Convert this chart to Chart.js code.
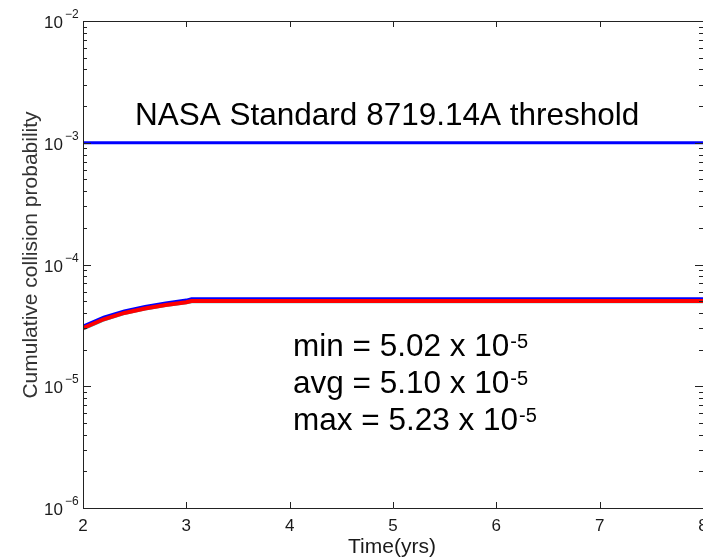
<!DOCTYPE html>
<html>
<head>
<meta charset="utf-8">
<script src="https://cdn.jsdelivr.net/npm/chart.js@4.4.1/dist/chart.umd.min.js"></script>
<style>
  html, body { margin: 0; padding: 0; background: #fff; }
  canvas { display: block; }
</style>
</head>
<body>
<canvas id="chart" width="703" height="559"></canvas>
<script>
// time axis (years) and cumulative probability samples, values in units of 1e-5
const years = [2.0, 2.2, 2.4, 2.6, 2.8, 3.0, 3.05, 8.0];
const maxRun = [3.12, 3.69, 4.16, 4.52, 4.84, 5.10, 5.23, 5.23];
const avgRun = [3.05, 3.61, 4.07, 4.42, 4.73, 4.98, 5.10, 5.10];
const redRun = [3.00, 3.55, 4.00, 4.35, 4.65, 4.90, 5.02, 5.02];
const cyanRun = [2.92, 3.47, 3.92, 4.27, 4.56, 4.80, 4.90, 4.90];
const thresholdYears = [2, 8];
const thresholdValue = [1e-3, 1e-3];

const xTicks = [2, 3, 4, 5, 6, 7, 8];
const xTickLabels = ['2', '3', '4', '5', '6', '7', '8'];
const yTicks = [1e-2, 1e-3, 1e-4, 1e-5, 1e-6];
const yTickExps = ['\u22122', '\u22123', '\u22124', '\u22125', '\u22126'];

const thresholdText = 'NASA Standard 8719.14A threshold';
const statNames = ['min', 'avg', 'max'];
const statValues = ['5.02', '5.10', '5.23'];

const xTitle = 'Time(yrs)';
const yTitle = 'Cumulative collision probability';

function pts(xs, ys, scale) {
  return xs.map((x, i) => ({ x: x, y: ys[i] * scale }));
}

const FONT = '"Liberation Sans", Arial, Helvetica, sans-serif';

// frame, inward ticks and all the text around the plot
const decor = {
  id: 'decor',
  afterDatasetsDraw(chart) {
    const ctx = chart.ctx;
    const a = chart.chartArea;
    const xs = chart.scales.x, ys = chart.scales.y;
    ctx.save();
    ctx.strokeStyle = '#222';
    ctx.lineWidth = 1;
    ctx.beginPath();
    ctx.moveTo(a.left + 0.5, a.top + 0.5);
    ctx.lineTo(a.right, a.top + 0.5);
    ctx.moveTo(a.left + 0.5, a.top);
    ctx.lineTo(a.left + 0.5, a.bottom + 0.5);
    ctx.lineTo(a.right, a.bottom + 0.5);
    // x ticks top and bottom
    xTicks.forEach(v => {
      const px = Math.round(xs.getPixelForValue(v)) + 0.5;
      ctx.moveTo(px, a.bottom); ctx.lineTo(px, a.bottom - 6);
      ctx.moveTo(px, a.top); ctx.lineTo(px, a.top + 6);
    });
    // y ticks, major and minor, left and right
    for (let e = -6; e <= -2; e++) {
      const py = Math.round(ys.getPixelForValue(Math.pow(10, e))) + 0.5;
      ctx.moveTo(a.left, py); ctx.lineTo(a.left + 8, py);
      ctx.moveTo(a.right, py); ctx.lineTo(a.right - 8, py);
      if (e < -2) {
        for (let m = 2; m <= 9; m++) {
          const q = Math.round(ys.getPixelForValue(m * Math.pow(10, e))) + 0.5;
          ctx.moveTo(a.left, q); ctx.lineTo(a.left + 4, q);
          ctx.moveTo(a.right, q); ctx.lineTo(a.right - 4, q);
        }
      }
    }
    ctx.stroke();

    ctx.fillStyle = '#1a1a1a';
    // x tick labels
    ctx.font = '17px ' + FONT;
    ctx.textAlign = 'center';
    ctx.textBaseline = 'alphabetic';
    xTicks.forEach((v, i) => {
      ctx.fillText(xTickLabels[i], xs.getPixelForValue(v), a.bottom + 23);
    });
    // y tick labels 10^n
    yTicks.forEach((v, i) => {
      const py = ys.getPixelForValue(v);
      ctx.font = '17px ' + FONT;
      ctx.textAlign = 'right';
      ctx.fillText('10', 63, py + 7);
      ctx.font = '12px ' + FONT;
      ctx.textAlign = 'left';
      ctx.fillText(yTickExps[i], 65, py - 3);
    });
    // axis titles
    ctx.font = '21px ' + FONT;
    ctx.textAlign = 'center';
    ctx.fillText(xTitle, 392, 553);
    ctx.save();
    ctx.translate(37, 255);
    ctx.rotate(-Math.PI / 2);
    ctx.font = '21px ' + FONT;
    ctx.fillStyle = '#333';
    ctx.fillText(yTitle, 0, 0);
    ctx.restore();

    // annotations
    ctx.fillStyle = '#000';
    ctx.font = '31.5px ' + FONT;
    ctx.textAlign = 'left';
    ctx.fillText(thresholdText, 135, 125);
    statNames.forEach((n, i) => {
      const base = 356 + i * 37;
      const s = n + ' = ' + statValues[i] + ' x 10';
      ctx.font = '31.5px ' + FONT;
      ctx.fillText(s, 293, base);
      const w = ctx.measureText(s).width;
      ctx.font = '20px ' + FONT;
      ctx.fillText('-5', 293 + w + 1, base - 8);
    });
    ctx.restore();
  }
};

function series(data, color, width) {
  return {
    data: data,
    borderColor: color,
    backgroundColor: color,
    borderWidth: width,
    pointRadius: 0,
    tension: 0,
    fill: false
  };
}

new Chart(document.getElementById('chart'), {
  type: 'line',
  data: {
    datasets: [
      series(pts(years, redRun, 1e-5), '#ff0000', 4),
      series(pts(years, maxRun, 1e-5), '#0000ff', 3),
      series(pts(years, avgRun, 1e-5), '#008000', 2),
      series(pts(years, cyanRun, 1e-5), '#33bfbf', 2),
      series(pts(thresholdYears, thresholdValue, 1), '#0000ff', 3)
    ]
  },
  options: {
    responsive: false,
    animation: false,
    layout: { padding: { top: 21, left: 0, right: 0, bottom: 0 } },
    plugins: { legend: { display: false }, tooltip: { enabled: false } },
    scales: {
      x: {
        type: 'linear', min: 2, max: 8,
        grid: { display: false }, border: { display: false },
        ticks: { display: false },
        afterFit(s) { s.height = 51; }
      },
      y: {
        type: 'logarithmic', min: 1e-6, max: 1e-2,
        grid: { display: false }, border: { display: false },
        ticks: { display: false },
        afterFit(s) { s.width = 83; }
      }
    }
  },
  plugins: [decor]
});
</script>
</body>
</html>
